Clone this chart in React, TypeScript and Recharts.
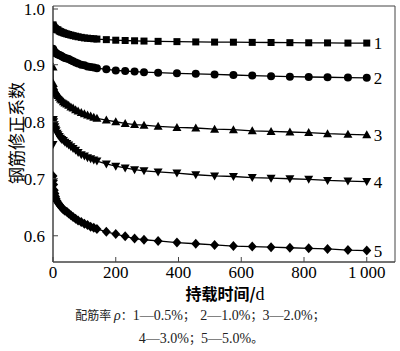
import { LineChart, Line, XAxis, YAxis, ReferenceArea, LabelList } from 'recharts';

// 持载时间 (d)
const days = [0, 1, 2, 4, 6, 8, 10, 13, 16, 20, 24, 28, 33, 38, 44, 50, 57, 64, 72, 80, 90, 100, 110, 120, 130, 140, 170, 200, 230, 260, 290, 335, 395, 455, 515, 575, 635, 695, 755, 815, 875, 940, 1000];

// 钢筋修正系数, 配筋率 0.5% / 1.0% / 2.0% / 3.0% / 5.0%
const rho05 = [0.970, 0.968, 0.967, 0.965, 0.964, 0.963, 0.962, 0.9615, 0.961, 0.959, 0.958, 0.957, 0.956, 0.955, 0.954, 0.953, 0.952, 0.951, 0.950, 0.949, 0.948, 0.947, 0.9465, 0.946, 0.9455, 0.945, 0.944, 0.943, 0.9425, 0.942, 0.9415, 0.941, 0.9405, 0.940, 0.9397, 0.9395, 0.9392, 0.939, 0.9387, 0.9385, 0.9383, 0.938, 0.938];
const rho10 = [0.928, 0.926, 0.925, 0.923, 0.922, 0.921, 0.920, 0.919, 0.918, 0.917, 0.916, 0.915, 0.913, 0.912, 0.911, 0.910, 0.908, 0.906, 0.904, 0.902, 0.900, 0.899, 0.897, 0.896, 0.895, 0.894, 0.892, 0.890, 0.889, 0.888, 0.887, 0.886, 0.885, 0.884, 0.883, 0.882, 0.881, 0.880, 0.879, 0.8785, 0.878, 0.8775, 0.877];
const rho20 = [0.896, 0.867, 0.862, 0.857, 0.854, 0.852, 0.850, 0.848, 0.846, 0.843, 0.840, 0.838, 0.835, 0.833, 0.831, 0.829, 0.826, 0.824, 0.821, 0.819, 0.816, 0.814, 0.812, 0.810, 0.808, 0.806, 0.803, 0.800, 0.797, 0.795, 0.794, 0.792, 0.790, 0.789, 0.787, 0.786, 0.784, 0.783, 0.782, 0.781, 0.779, 0.778, 0.777];
const rho30 = [0.760, 0.804, 0.800, 0.795, 0.791, 0.787, 0.784, 0.780, 0.777, 0.774, 0.771, 0.769, 0.767, 0.764, 0.762, 0.759, 0.756, 0.753, 0.750, 0.746, 0.742, 0.740, 0.737, 0.735, 0.733, 0.731, 0.726, 0.722, 0.719, 0.716, 0.714, 0.712, 0.710, 0.707, 0.705, 0.704, 0.702, 0.701, 0.700, 0.699, 0.697, 0.696, 0.695];
const rho50 = [0.705, 0.697, 0.690, 0.680, 0.674, 0.669, 0.665, 0.661, 0.658, 0.655, 0.652, 0.649, 0.646, 0.644, 0.642, 0.639, 0.636, 0.633, 0.630, 0.627, 0.624, 0.621, 0.619, 0.616, 0.614, 0.612, 0.607, 0.603, 0.599, 0.595, 0.593, 0.591, 0.588, 0.586, 0.584, 0.582, 0.581, 0.580, 0.579, 0.578, 0.577, 0.575, 0.574];

const seriesLabels = ['1', '2', '3', '4', '5'];
const xTicks = [0, 200, 400, 600, 800, 1000];
const yTicks = [0.6, 0.7, 0.8, 0.9, 1.0];
const X_DOMAIN: [number, number] = [0, 1090];
const Y_DOMAIN: [number, number] = [0.554, 1.003];

const data = days.map((t, i) => ({
  t,
  s1: rho05[i],
  s2: rho10[i],
  s3: rho20[i],
  s4: rho30[i],
  s5: rho50[i],
}));

const SERIF = '"Liberation Serif", "Times New Roman", serif';
const CJK = '"Noto Sans CJK SC", sans-serif';
const INK = '#000';
const FRAME = '#444';

type Shape = 'square' | 'circle' | 'triangle' | 'down' | 'diamond';

function Marker({ cx, cy, shape }: { cx: number; cy: number; shape: Shape }) {
  if (cx == null || cy == null) return null;
  switch (shape) {
    case 'square':
      return <rect x={cx - 3.5} y={cy - 3.5} width={7} height={7} fill={INK} />;
    case 'circle':
      return <circle cx={cx} cy={cy} r={4} fill={INK} />;
    case 'triangle':
      return <polygon points={`${cx},${cy - 4.5} ${cx + 4.5},${cy + 3.5} ${cx - 4.5},${cy + 3.5}`} fill={INK} />;
    case 'down':
      return <polygon points={`${cx},${cy + 4.5} ${cx + 4.5},${cy - 3.5} ${cx - 4.5},${cy - 3.5}`} fill={INK} />;
    default:
      return <polygon points={`${cx},${cy - 5} ${cx + 4.5},${cy} ${cx},${cy + 5} ${cx - 4.5},${cy}`} fill={INK} />;
  }
}

const dotFor = (shape: Shape) => (p: any) => (
  <Marker key={`${shape}-${p.index}`} cx={p.cx} cy={p.cy} shape={shape} />
);

const endLabel = (text: string) => (p: any) => {
  if (p.index !== days.length - 1) return null;
  return (
    <text x={p.x + 7} y={p.y} dy="0.35em" fontFamily={SERIF} fontSize={17} fill={INK}>
      {text}
    </text>
  );
};

function XTick({ x, y, payload }: any) {
  const v = payload.value as number;
  const label = v >= 1000 ? `${Math.floor(v / 1000)}\u2009${String(v % 1000).padStart(3, '0')}` : String(v);
  return (
    <g>
      <line x1={x} x2={x} y1={y - 4} y2={y - 9} stroke={FRAME} strokeWidth={1} />
      <text x={x} y={y} dy={12} textAnchor="middle" fontFamily={SERIF} fontSize={17} fill={INK}>
        {label}
      </text>
    </g>
  );
}

function YTick({ x, y, payload }: any) {
  return (
    <g>
      <line x1={x + 8} x2={x + 13} y1={y} y2={y} stroke={FRAME} strokeWidth={1} />
      <text x={x} y={y} dy="0.35em" textAnchor="end" fontFamily={SERIF} fontSize={17} fill={INK}>
        {(payload.value as number).toFixed(1)}
      </text>
    </g>
  );
}

const series: { key: string; shape: Shape }[] = [
  { key: 's1', shape: 'square' },
  { key: 's2', shape: 'circle' },
  { key: 's3', shape: 'triangle' },
  { key: 's4', shape: 'down' },
  { key: 's5', shape: 'diamond' },
];

const overlay = {
  position: 'absolute' as const,
  transform: 'translate(-50%, -50%)',
  whiteSpace: 'pre' as const,
  lineHeight: 1,
  color: INK,
};

const num = { fontFamily: SERIF, fontSize: 14, lineHeight: 1 };

export default function App() {
  return (
    <div style={{ position: 'absolute', left: 0, top: 0, width: 400, height: 351, background: '#fff' }}>
      <LineChart width={400} height={351} data={data} margin={{ top: 6, right: 5, bottom: 64, left: 8 }}>
        <XAxis
          dataKey="t"
          type="number"
          domain={X_DOMAIN}
          ticks={xTicks}
          allowDataOverflow
          tickSize={0}
          tickMargin={4}
          height={25}
          tick={<XTick />}
          axisLine={{ stroke: FRAME }}
        />
        <YAxis
          type="number"
          domain={Y_DOMAIN}
          ticks={yTicks}
          allowDataOverflow
          tickSize={0}
          tickMargin={8}
          width={45}
          tick={<YTick />}
          axisLine={{ stroke: FRAME }}
        />
        <ReferenceArea
          x1={X_DOMAIN[0]}
          x2={X_DOMAIN[1]}
          y1={Y_DOMAIN[0]}
          y2={Y_DOMAIN[1]}
          fill="none"
          stroke={FRAME}
          strokeWidth={1}
        />
        {series.map((s, i) => (
          <Line
            key={s.key}
            dataKey={s.key}
            type="linear"
            stroke={INK}
            strokeWidth={1.3}
            dot={dotFor(s.shape)}
            activeDot={false}
            isAnimationActive={false}
          >
            <LabelList dataKey={s.key} content={endLabel(seriesLabels[i])} />
          </Line>
        ))}
      </LineChart>
      <div
        style={{
          ...overlay,
          left: 15,
          top: 133,
          transform: 'translate(-50%, -50%) rotate(-90deg)',
          fontFamily: CJK,
          fontSize: 17,
        }}
      >
        钢筋修正系数
      </div>
      <div style={{ ...overlay, left: 225, top: 294, fontFamily: CJK, fontSize: 16, fontWeight: 700 }}>
        持载时间/<span style={{ fontFamily: SERIF, fontWeight: 400, fontSize: 18, lineHeight: 1 }}>d</span>
      </div>
      <div style={{ ...overlay, left: 200, top: 316, fontFamily: CJK, fontSize: 12, color: '#222' }}>
        配筋率 <span style={{ ...num, fontStyle: 'italic' }}>ρ</span>：<span style={num}>1—0.5%</span>；  <span style={num}>2—1.0%</span>；<span style={num}>3—2.0%</span>；
      </div>
      <div style={{ ...overlay, left: 201, top: 339, fontFamily: CJK, fontSize: 12, color: '#222' }}>
        <span style={num}>4—3.0%</span>；<span style={num}>5—5.0%</span>。
      </div>
    </div>
  );
}
